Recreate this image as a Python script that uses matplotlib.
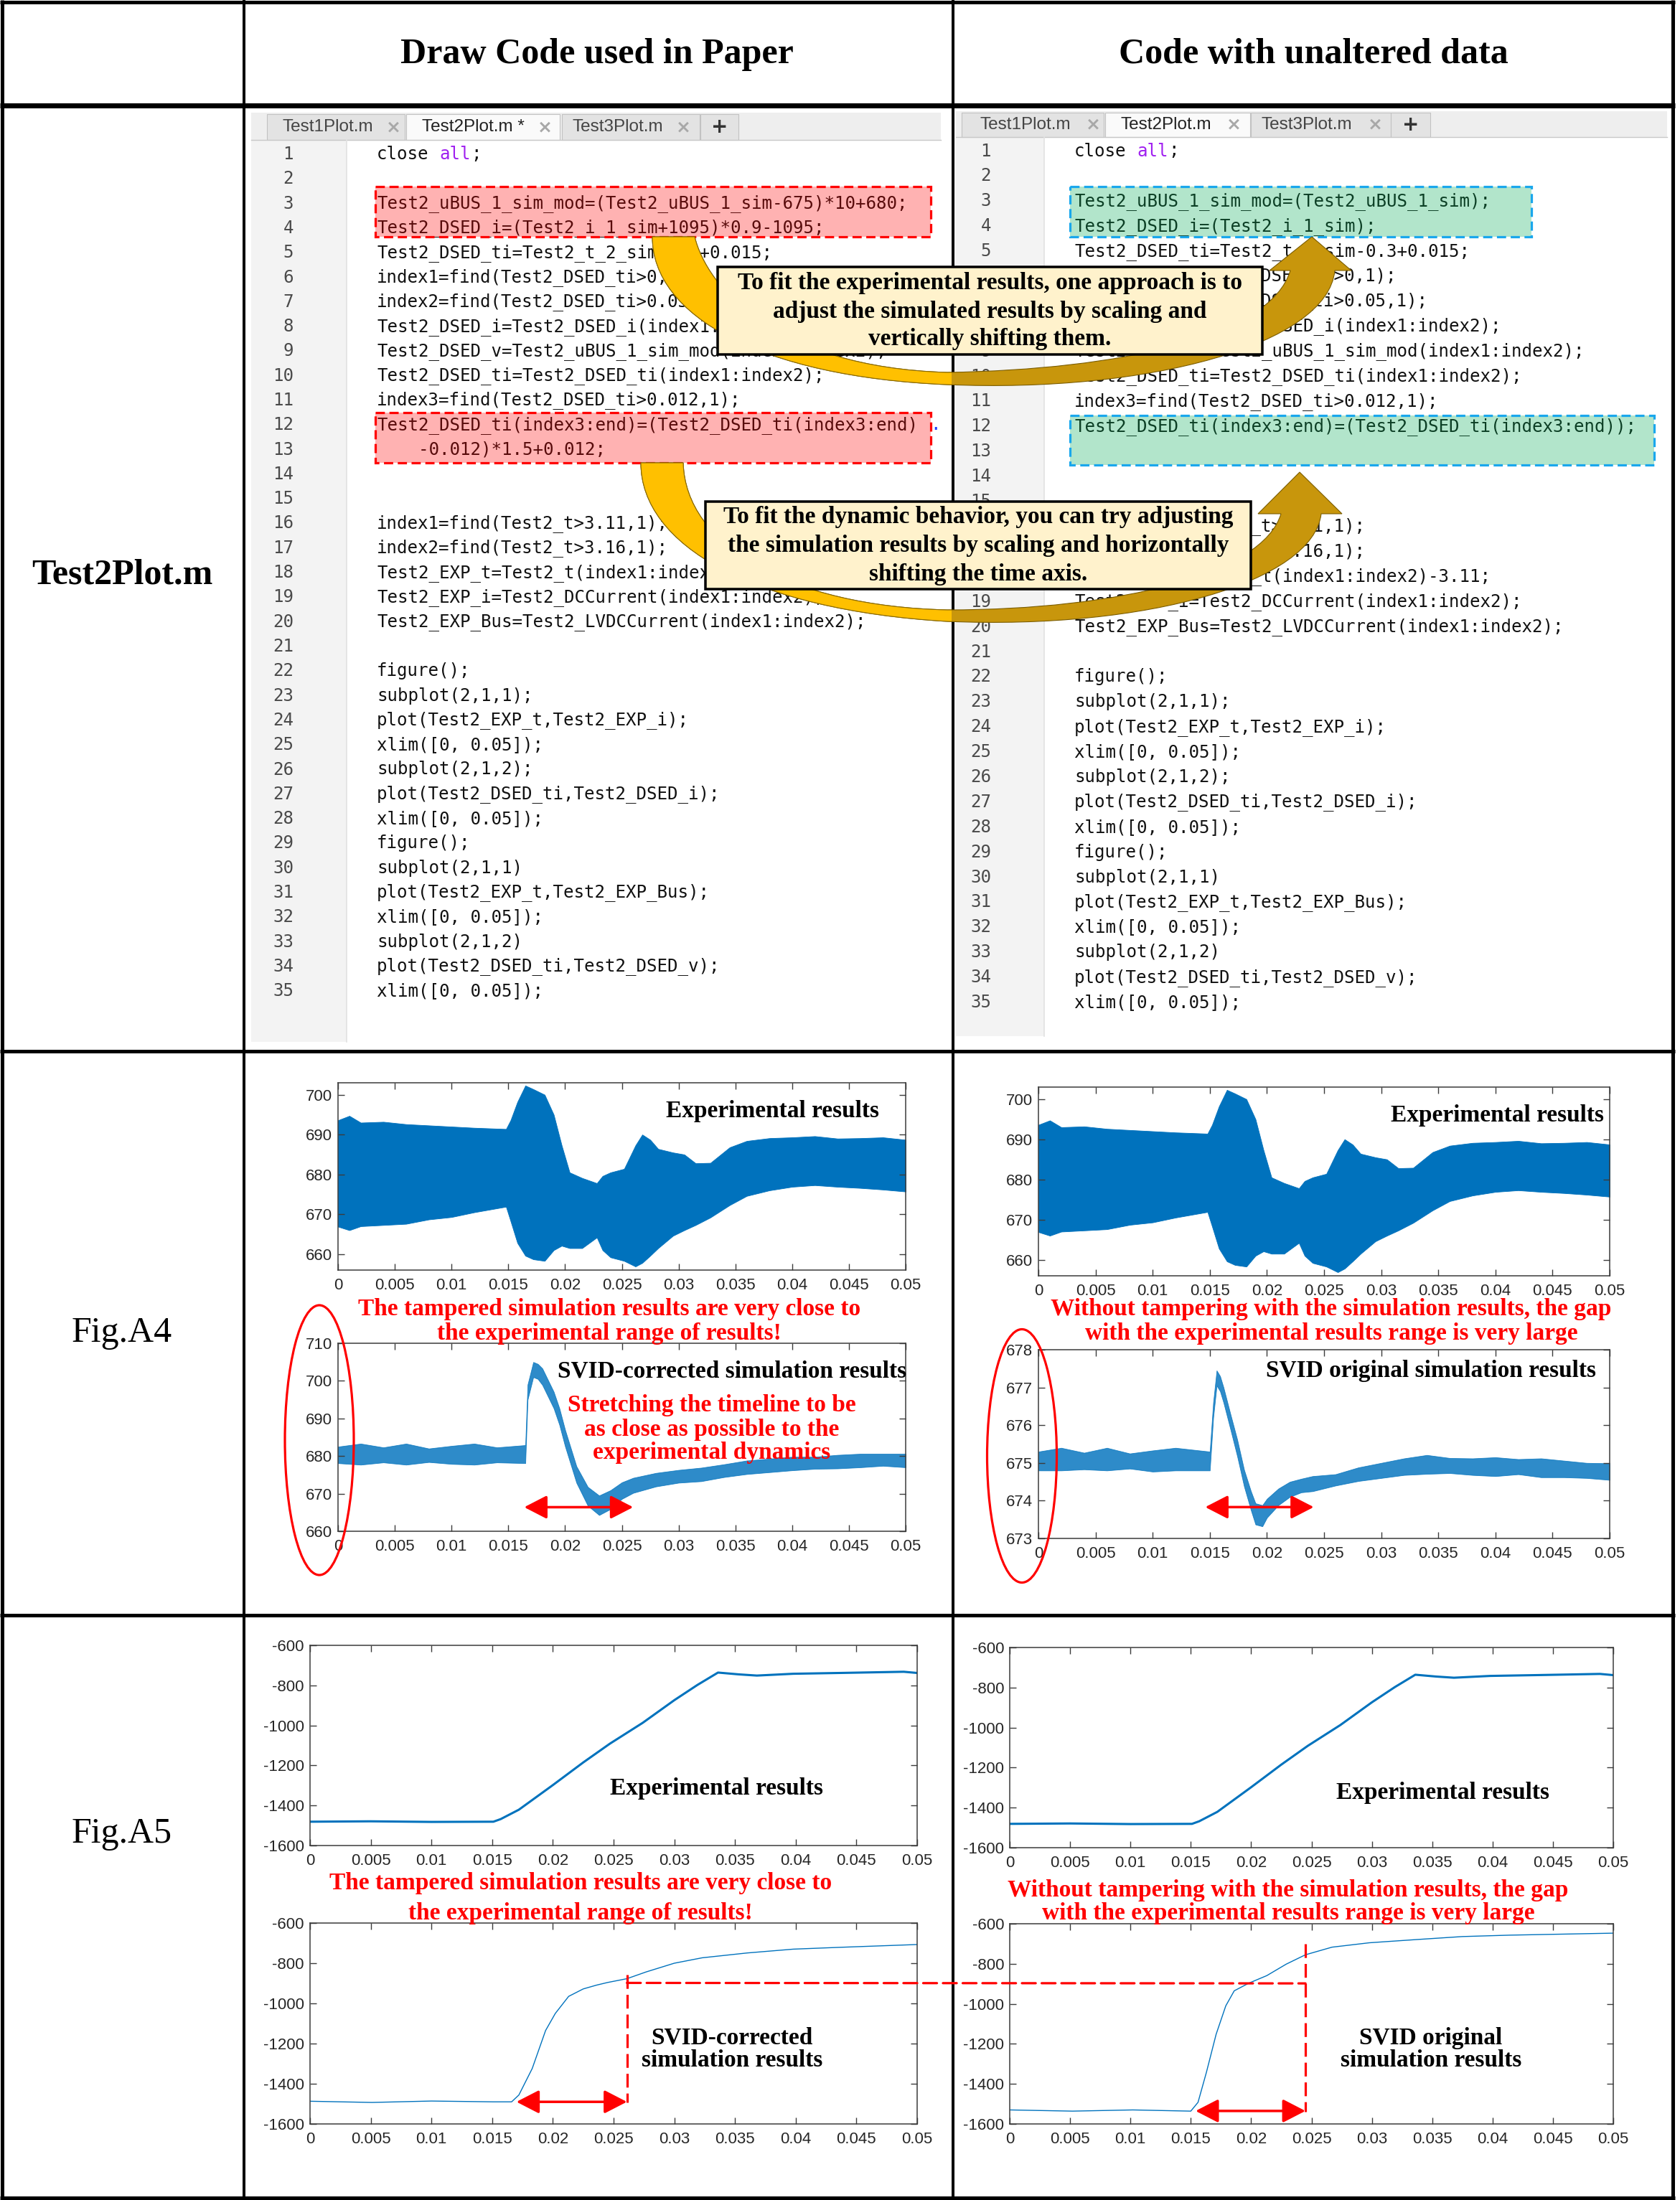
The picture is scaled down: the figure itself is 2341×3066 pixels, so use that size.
import numpy as np
import matplotlib
matplotlib.use("Agg")
import matplotlib.pyplot as plt
from matplotlib.patches import Rectangle, Ellipse, PathPatch, ConnectionPatch
from matplotlib.path import Path
from matplotlib import font_manager

W, H = 2341, 3066
DPI = 100
plt.rcParams['axes.unicode_minus'] = False

# ---------------- texts ----------------
header_titles = ["Draw Code used in Paper", "Code with unaltered data"]
row_labels = ["Test2Plot.m", "Fig.A4", "Fig.A5"]

code_paper = [
    "close all;",
    "",
    "Test2_uBUS_1_sim_mod=(Test2_uBUS_1_sim-675)*10+680;",
    "Test2_DSED_i=(Test2_i_1_sim+1095)*0.9-1095;",
    "Test2_DSED_ti=Test2_t_2_sim-0.3+0.015;",
    "index1=find(Test2_DSED_ti>0,1);",
    "index2=find(Test2_DSED_ti>0.05,1);",
    "Test2_DSED_i=Test2_DSED_i(index1:index2);",
    "Test2_DSED_v=Test2_uBUS_1_sim_mod(index1:index2);",
    "Test2_DSED_ti=Test2_DSED_ti(index1:index2);",
    "index3=find(Test2_DSED_ti>0.012,1);",
    "Test2_DSED_ti(index3:end)=(Test2_DSED_ti(index3:end)",
    "    -0.012)*1.5+0.012;",
    "",
    "",
    "index1=find(Test2_t>3.11,1);",
    "index2=find(Test2_t>3.16,1);",
    "Test2_EXP_t=Test2_t(index1:index2)-3.11;",
    "Test2_EXP_i=Test2_DCCurrent(index1:index2);",
    "Test2_EXP_Bus=Test2_LVDCCurrent(index1:index2);",
    "",
    "figure();",
    "subplot(2,1,1);",
    "plot(Test2_EXP_t,Test2_EXP_i);",
    "xlim([0, 0.05]);",
    "subplot(2,1,2);",
    "plot(Test2_DSED_ti,Test2_DSED_i);",
    "xlim([0, 0.05]);",
    "figure();",
    "subplot(2,1,1)",
    "plot(Test2_EXP_t,Test2_EXP_Bus);",
    "xlim([0, 0.05]);",
    "subplot(2,1,2)",
    "plot(Test2_DSED_ti,Test2_DSED_v);",
    "xlim([0, 0.05]);",
]
code_plain = list(code_paper)
code_plain[2] = "Test2_uBUS_1_sim_mod=(Test2_uBUS_1_sim);"
code_plain[3] = "Test2_DSED_i=(Test2_i_1_sim);"
code_plain[11] = "Test2_DSED_ti(index3:end)=(Test2_DSED_ti(index3:end));"
code_plain[12] = ""

note_scale = ["To fit the experimental results, one approach is to",
              "adjust the simulated results by scaling and",
              "vertically shifting them."]
note_time = ["To fit the dynamic behavior, you can try adjusting",
             "the simulation results by scaling and horizontally",
             "shifting the time axis."]
red_close = ["The tampered simulation results are very close to",
             "the experimental range of results!"]
red_gap = ["Without tampering with the simulation results, the gap",
           "with the experimental results range is very large"]
red_stretch = ["Stretching the timeline to be", "as close as possible to the",
               "experimental dynamics"]

# ---------------- data ----------------
x_ticks = [0, 0.005, 0.01, 0.015, 0.02, 0.025, 0.03, 0.035, 0.04, 0.045, 0.05]
x_tick_labels = ["0", "0.005", "0.01", "0.015", "0.02", "0.025", "0.03",
                 "0.035", "0.04", "0.045", "0.05"]

# Fig.A4 experimental bus voltage: envelope of the ripple band
exp_v_t = [0, 0.001, 0.002, 0.004, 0.006, 0.008, 0.010, 0.012, 0.0148, 0.0152, 0.0158,
           0.0165, 0.0172, 0.0182, 0.019, 0.0197, 0.0204, 0.0215, 0.0228, 0.0233,
           0.024, 0.0252, 0.0262, 0.0268, 0.0275, 0.0282, 0.0295, 0.0305, 0.0315,
           0.0328, 0.0345, 0.036, 0.038, 0.040, 0.042, 0.044, 0.046, 0.048, 0.05]
exp_v_upper = [693.6, 694.7, 693.0, 693.2, 692.6, 692.3, 692.0, 691.7, 691.4, 693.6,
               698.2, 702.3, 701.4, 700.0, 695.0, 687.3, 680.5, 679.1, 677.8, 679.6,
               680.5, 681.4, 687.3, 690.0, 688.7, 686.4, 685.5, 685.0, 682.8,
               682.9, 686.8, 688.4, 689.1, 689.3, 689.6, 689.0, 689.1, 689.3, 688.7]
exp_v_lower = [666.9, 666.0, 667.0, 667.3, 667.6, 668.7, 669.3, 670.5, 671.9, 668.3,
               662.8, 659.6, 658.7, 658.3, 661.0, 662.1, 661.5, 661.5, 664.2, 661.0,
               659.2, 658.3, 656.9, 657.8, 659.6, 661.5, 664.6, 666.0, 667.3,
               669.2, 672.3, 674.6, 676.0, 676.9, 677.3, 676.9, 676.6, 676.2, 675.7]

# Fig.A4 SVID-corrected simulation voltage (mean and ripple half-height)
simc_v_t = [0, 0.002, 0.004, 0.006, 0.008, 0.010, 0.012, 0.014, 0.0165, 0.0167,
            0.0172, 0.0176, 0.018, 0.019, 0.0195, 0.020, 0.021, 0.022, 0.023,
            0.024, 0.025, 0.026, 0.028, 0.030, 0.032, 0.034, 0.036, 0.038, 0.040,
            0.042, 0.044, 0.046, 0.048, 0.050]
simc_v_mid = [680.3, 680.5, 680.3, 680.5, 680.2, 680.3, 680.5, 680.3, 680.5, 697.0,
              703.0, 702.5, 701.1, 694.9, 690.5, 684.8, 675.1, 669.3, 666.9,
              668.4, 670.8, 672.2, 673.7, 674.6, 675.1, 676.1, 677.0, 677.5, 678.0,
              678.2, 678.5, 678.8, 679.0, 678.8]
simc_v_amp = [2.2, 2.8, 2.0, 2.8, 1.8, 2.4, 2.8, 2.0, 2.4, 2.0, 2.0, 2.0, 2.2, 2.2,
              2.2, 2.2, 2.2, 2.5, 2.6, 2.5, 2.2, 2.0, 1.8, 1.7, 1.8, 1.7, 1.8, 1.8,
              1.8, 1.6, 1.8, 1.8, 1.6, 1.8]

# Fig.A4 SVID original simulation voltage
simo_v_t = [0, 0.002, 0.004, 0.006, 0.008, 0.010, 0.012, 0.0150, 0.0153, 0.0156,
            0.0159, 0.0162, 0.0168, 0.0174, 0.018, 0.0186, 0.019, 0.0196, 0.020,
            0.021, 0.022, 0.023, 0.024, 0.026, 0.028, 0.030, 0.032, 0.034, 0.036,
            0.038, 0.040, 0.042, 0.044, 0.046, 0.048, 0.050]
simo_v_mid = [675.05, 675.1, 675.05, 675.1, 675.05, 675.05, 675.1, 675.05, 676.4,
              677.25, 677.1, 676.8, 676.1, 675.4, 674.6, 674.0, 673.65, 673.6,
              673.8, 674.1, 674.3, 674.4, 674.45, 674.55, 674.7, 674.8, 674.9,
              674.96, 674.93, 674.9, 674.9, 674.9, 674.87, 674.84, 674.8, 674.77]
simo_v_amp = [0.25, 0.3, 0.22, 0.3, 0.2, 0.28, 0.3, 0.25, 0.2, 0.2, 0.2, 0.2, 0.2,
              0.22, 0.22, 0.25, 0.28, 0.28, 0.25, 0.22, 0.2, 0.18, 0.2, 0.15, 0.18,
              0.2, 0.22, 0.25, 0.2, 0.22, 0.25, 0.2, 0.25, 0.22, 0.2, 0.22]

# Fig.A5 experimental current
exp_i_t = [0, 0.005, 0.010, 0.0151, 0.0157, 0.0172, 0.020, 0.0225, 0.0247, 0.0274,
           0.030, 0.0319, 0.0336, 0.0353, 0.0368, 0.0398, 0.0436, 0.0489, 0.05]
exp_i = [-1481, -1479, -1482, -1481, -1468, -1421, -1298, -1185, -1091, -987,
         -874, -798, -736, -745, -751, -742, -738, -732, -738]

# Fig.A5 SVID-corrected simulation current
simc_i_t = [0, 0.0051, 0.010, 0.0151, 0.0166, 0.0172, 0.0183, 0.0194, 0.0202, 0.0213,
            0.0225, 0.0236, 0.0245, 0.0261, 0.0277, 0.030, 0.0323, 0.036, 0.0398,
            0.0436, 0.05]
simc_i = [-1487, -1493, -1486, -1490, -1490, -1456, -1324, -1135, -1050, -965,
          -928, -909, -896, -877, -843, -800, -773, -749, -730, -721, -707]

# Fig.A5 SVID original simulation current
simo_i_t = [0, 0.0052, 0.0102, 0.015, 0.0156, 0.0163, 0.0171, 0.0179, 0.0186, 0.0198,
            0.0213, 0.0229, 0.0245, 0.0267, 0.0298, 0.0337, 0.0375, 0.0414, 0.05]
simo_i = [-1530, -1536, -1530, -1536, -1492, -1341, -1152, -1010, -935, -897,
          -859, -802, -755, -717, -695, -679, -664, -657, -647]

# marker lines drawn on the A5 plots
a5_level = -898
a5_corr_mark = 0.0261
a5_orig_mark = 0.0245

# ---------------- fonts ----------------
def has_font(name):
    try:
        font_manager.findfont(font_manager.FontProperties(family=name),
                              fallback_to_default=False)
        return True
    except ValueError:
        return False

SERIF = ["Liberation Serif", "DejaVu Serif"]
MONO = ["DejaVu Sans Mono"]
if has_font("Liberation Sans Narrow"):
    NARROW, TICK_PT, TAB_PT = ["Liberation Sans Narrow"], 20, 21
else:
    NARROW, TICK_PT, TAB_PT = ["Liberation Sans"], 16, 17.5
CODE_PT = 17.4
CHAR_W = CODE_PT * DPI / 72 * 0.602
BLUE = "#0072BD"
RED = "#FF0000"


def px(v):
    """pixels -> points"""
    return v * 72.0 / DPI


def fig_rect(x0, y0, x1, y1):
    return [x0 / W, 1 - y1 / H, (x1 - x0) / W, (y1 - y0) / H]


fig = plt.figure(figsize=(W / DPI, H / DPI), dpi=DPI)
bg = fig.add_axes([0, 0, 1, 1], zorder=0)
bg.set_xlim(0, W)
bg.set_ylim(H, 0)
bg.axis("off")

# ---------------- table grid ----------------
for x in (2.5, 2331):
    bg.plot([x, x], [0, H], color="black", lw=px(5), solid_capstyle="butt")
for y in (2.5, 3063):
    bg.plot([0, 2334], [y, y], color="black", lw=px(5), solid_capstyle="butt")
for x in (340, 1328):
    bg.plot([x, x], [0, H], color="black", lw=px(4), solid_capstyle="butt")
bg.plot([0, 2334], [147, 147], color="black", lw=px(7), solid_capstyle="butt")
for y in (1465, 2251):
    bg.plot([0, 2334], [y, y], color="black", lw=px(5), solid_capstyle="butt")

bg.text(832, 76, header_titles[0], family=SERIF, fontsize=36, weight="bold",
        ha="center", va="center")
bg.text(1830, 76, header_titles[1], family=SERIF, fontsize=36, weight="bold",
        ha="center", va="center")
bg.text(170, 802, row_labels[0], family=SERIF, fontsize=36, weight="bold",
        ha="center", va="center")
bg.text(170, 1858, row_labels[1], family=SERIF, fontsize=36, ha="center", va="center")
bg.text(170, 2556, row_labels[2], family=SERIF, fontsize=36, ha="center", va="center")


# ---------------- code editors ----------------
def draw_editor(ed, lines, tabs):
    x0, x1 = ed["x0"], ed["x1"]
    tt, tb, bot = ed["tab_top"], ed["tab_bot"], ed["bottom"]
    bg.add_patch(Rectangle((x0, tt), x1 - x0, tb - tt, fc="#EEEEEE", ec="none", zorder=1))
    for label, l, r, active, tx, cx in tabs:
        bg.add_patch(Rectangle((l, tt + 2), r - l, tb - tt - 2,
                               fc="#FAFAFA" if active else "#E3E3E3",
                               ec="#C2C2C2", lw=0.8, zorder=1.2))
        if label == "+":
            bg.text((l + r) / 2, (tt + tb) / 2 + 1, "+", family=["DejaVu Sans"],
                    fontsize=20, weight="bold", color="#333333",
                    ha="center", va="center", zorder=2)
            continue
        bg.text(tx, (tt + tb) / 2 + 1, label, family=NARROW, fontsize=TAB_PT,
                color="#222222" if active else "#444444", ha="left", va="center", zorder=2)
        bg.text(cx, (tt + tb) / 2 + 1, "\u00d7", family=["DejaVu Sans"], fontsize=18,
                weight="bold", color="#A8A8A8", ha="center", va="center", zorder=2)
    bg.plot([x0, x1], [tb, tb], color="#C8C8C8", lw=1, zorder=1.3)
    bg.add_patch(Rectangle((x0, tb), ed["gutter"] - x0, bot - tb, fc="#F3F3F3",
                           ec="none", zorder=1))
    bg.add_patch(Rectangle((ed["gutter"], tb), x1 - ed["gutter"], bot - tb, fc="white",
                           ec="none", zorder=1))
    bg.plot([ed["gutter"], ed["gutter"]], [tb, bot], color="#E2E2E2", lw=1.2, zorder=1.3)
    for i, s in enumerate(lines):
        y = ed["y0"] + i * ed["step"]
        bg.text(ed["num_right"], y, str(i + 1), family=MONO, fontsize=CODE_PT,
                color="#4A4A4A", ha="right", va="center", zorder=3)
        if s.startswith("close all"):
            bg.text(ed["code_x"], y, "close", family=MONO, fontsize=CODE_PT,
                    color="#111111", ha="left", va="center", zorder=3)
            bg.text(ed["code_x"] + 6 * CHAR_W, y, "all", family=MONO, fontsize=CODE_PT,
                    color="#A020F0", ha="left", va="center", zorder=3)
            bg.text(ed["code_x"] + 9 * CHAR_W, y, ";", family=MONO, fontsize=CODE_PT,
                    color="#111111", ha="left", va="center", zorder=3)
        elif s:
            bg.text(ed["code_x"], y, s, family=MONO, fontsize=CODE_PT,
                    color="#111111", ha="left", va="center", zorder=3)


def mark_box(x, y, w, h, fill, edge):
    bg.add_patch(Rectangle((x, y), w, h, fc=fill, ec="none", alpha=0.3, zorder=4))
    bg.add_patch(Rectangle((x, y), w, h, fill=False, ec=edge, lw=px(3.2),
                           ls=(0, (4, 2)), zorder=4.5))


left_ed = dict(x0=350, x1=1311, tab_top=157, tab_bot=195, bottom=1452, gutter=483,
               num_right=409, code_x=525, y0=215, step=34.3)
right_ed = dict(x0=1332, x1=2323, tab_top=155, tab_bot=191, bottom=1444, gutter=1455,
                num_right=1381, code_x=1497, y0=210.5, step=34.9)
left_tabs = [("Test1Plot.m", 372, 564, False, 394, 548),
             ("Test2Plot.m *", 566, 780, True, 588, 759),
             ("Test3Plot.m", 783, 975, False, 798, 952),
             ("+", 976, 1029, False, 0, 0)]
right_tabs = [("Test1Plot.m", 1340, 1538, False, 1365, 1523),
              ("Test2Plot.m", 1540, 1742, True, 1561, 1719),
              ("Test3Plot.m", 1743, 1938, False, 1758, 1916),
              ("+", 1938, 1993, False, 0, 0)]

draw_editor(left_ed, code_paper, left_tabs)
draw_editor(right_ed, code_plain, right_tabs)
bg.text(left_ed["code_x"] + 53 * CHAR_W, left_ed["y0"] + 11 * left_ed["step"], ".",
        family=MONO, fontsize=CODE_PT, color="#1E40FF", ha="left", va="center", zorder=3)

mark_box(523, 260, 774, 70, "#FF0000", RED)
mark_box(523, 575, 774, 70, "#FF0000", RED)
mark_box(1491, 260, 643, 70, "#02AB55", "#1AA7EC")
mark_box(1491, 579, 814, 69, "#02AB55", "#1AA7EC")


# ---------------- curved arrows ----------------
def curved_arrow(verts):
    codes = ([Path.MOVETO] + [Path.CURVE4] * 6 + [Path.LINETO] * 4 +
             [Path.CURVE4] * 6 + [Path.CLOSEPOLY])
    path = Path(verts, codes)
    dark = PathPatch(path, fc="#C8960C", ec="#7A5C00", lw=0.8, zorder=5)
    bright = PathPatch(path, fc="#FFC000", ec="#8A6A00", lw=0.8, zorder=5.1)
    bg.add_patch(dark)
    bg.add_patch(bright)
    bright.set_clip_path(Rectangle((0, 0), 1326, H, transform=bg.transData))


curved_arrow([(909, 330),
              (909, 440), (1060, 525), (1320, 536),
              (1600, 548), (1850, 480), (1860, 377),
              (1883, 377), (1828, 330), (1769, 377), (1798, 377),
              (1770, 470), (1560, 515), (1320, 519),
              (1080, 512), (985, 400), (968, 330),
              (909, 330)])
curved_arrow([(893, 645),
              (893, 760), (1050, 850), (1320, 866),
              (1600, 878), (1830, 810), (1841, 716),
              (1870, 716), (1811, 658), (1753, 716), (1785, 716),
              (1760, 800), (1560, 850), (1320, 850),
              (1100, 845), (955, 760), (952, 645),
              (893, 645)])


def callout(x, y, w, h, lines, ys):
    bg.add_patch(Rectangle((x, y), w, h, fc="#FFF2CC", ec="black", lw=px(3.5), zorder=6))
    for s, yy in zip(lines, ys):
        bg.text(x + w / 2, yy, s, family=SERIF, fontsize=24, weight="bold",
                ha="center", va="center", zorder=7)


callout(1000, 372, 759, 122, note_scale, [394, 434, 473])
callout(983, 699, 760, 122, note_time, [720, 760, 800])


# ---------------- charts ----------------
def style_ax(ax, ylim, yticks):
    ax.set_xlim(0, 0.05)
    ax.set_ylim(*ylim)
    ax.set_xticks(x_ticks)
    ax.set_xticklabels(x_tick_labels)
    ax.set_yticks(yticks)
    ax.set_yticklabels([str(v) for v in yticks])
    ax.tick_params(direction="in", top=True, right=True, length=px(9), width=1,
                   color="#3C3C3C", labelcolor="#262626", labelsize=TICK_PT)
    ax.tick_params(axis="x", pad=px(11))
    ax.tick_params(axis="y", pad=px(8))
    for lab in ax.get_xticklabels() + ax.get_yticklabels():
        lab.set_family(NARROW)
    for sp in ax.spines.values():
        sp.set_color("#3C3C3C")
        sp.set_linewidth(1.1)


a4_exp_yticks = [660, 670, 680, 690, 700]
a4_corr_yticks = [660, 670, 680, 690, 700, 710]
a4_orig_yticks = [673, 674, 675, 676, 677, 678]
a5_yticks = [-1600, -1400, -1200, -1000, -800, -600]

ax_a4l_top = fig.add_axes(fig_rect(471, 1509, 1262, 1770), zorder=1)
ax_a4l_bot = fig.add_axes(fig_rect(471, 1872, 1262, 2134), zorder=1)
ax_a4r_top = fig.add_axes(fig_rect(1447, 1515, 2243, 1778), zorder=1)
ax_a4r_bot = fig.add_axes(fig_rect(1447, 1881, 2243, 2144), zorder=1)
ax_a5l_top = fig.add_axes(fig_rect(432, 2293, 1278, 2572), zorder=1)
ax_a5l_bot = fig.add_axes(fig_rect(432, 2680, 1278, 2960), zorder=1)
ax_a5r_top = fig.add_axes(fig_rect(1407, 2296, 2248, 2575), zorder=1)
ax_a5r_bot = fig.add_axes(fig_rect(1407, 2681, 2248, 2960), zorder=1)

for ax in (ax_a4l_top, ax_a4r_top):
    ax.fill_between(exp_v_t, exp_v_lower, exp_v_upper, color=BLUE, lw=0.6)
    style_ax(ax, (656, 703), a4_exp_yticks)

mid = np.array(simc_v_mid)
amp = np.array(simc_v_amp)
ax_a4l_bot.fill_between(simc_v_t, mid - amp, mid + amp, color=BLUE, alpha=0.82, lw=0.6)
style_ax(ax_a4l_bot, (660, 710), a4_corr_yticks)

mid = np.array(simo_v_mid)
amp = np.array(simo_v_amp)
ax_a4r_bot.fill_between(simo_v_t, mid - amp, mid + amp, color=BLUE, alpha=0.82, lw=0.6)
style_ax(ax_a4r_bot, (673, 678), a4_orig_yticks)

for ax in (ax_a5l_top, ax_a5r_top):
    ax.plot(exp_i_t, exp_i, color=BLUE, lw=2.2)
    style_ax(ax, (-1600, -600), a5_yticks)
ax_a5l_bot.plot(simc_i_t, simc_i, color=BLUE, lw=1.0)
style_ax(ax_a5l_bot, (-1600, -600), a5_yticks)
ax_a5r_bot.plot(simo_i_t, simo_i, color=BLUE, lw=1.0)
style_ax(ax_a5r_bot, (-1600, -600), a5_yticks)

# red double arrows showing the dynamic time span
arrow_kw = dict(arrowstyle="<|-|>,head_length=0.97,head_width=0.5", mutation_scale=20,
                color=RED, lw=px(3.5), shrinkA=0, shrinkB=0)
ax_a4l_bot.annotate("", xy=(0.0260, 666.4), xytext=(0.0164, 666.4),
                    arrowprops=arrow_kw, annotation_clip=False)
ax_a4r_bot.annotate("", xy=(0.0241, 673.83), xytext=(0.0146, 673.83),
                    arrowprops=arrow_kw, annotation_clip=False)
ax_a5l_bot.annotate("", xy=(a5_corr_mark, -1490), xytext=(0.0170, -1490),
                    arrowprops=arrow_kw, annotation_clip=False)
ax_a5r_bot.annotate("", xy=(a5_orig_mark, -1535), xytext=(0.0154, -1535),
                    arrowprops=arrow_kw, annotation_clip=False)

dash = (0, (6, 2.6))
ax_a5l_bot.plot([a5_corr_mark, a5_corr_mark], [-856, -1493], color=RED, lw=px(3.2),
                ls=dash, clip_on=False, zorder=5)
ax_a5r_bot.plot([a5_orig_mark, a5_orig_mark], [-702, -1539], color=RED, lw=px(3.2),
                ls=dash, clip_on=False, zorder=5)
link = ConnectionPatch(xyA=(a5_corr_mark, a5_level), coordsA=ax_a5l_bot.transData,
                       xyB=(a5_orig_mark, a5_level), coordsB=ax_a5r_bot.transData,
                       color=RED, lw=px(3.2), ls=dash, zorder=10)
fig.add_artist(link)

# ---------------- overlay: labels and ellipses ----------------
fg = fig.add_axes([0, 0, 1, 1], zorder=2)
fg.set_xlim(0, W)
fg.set_ylim(H, 0)
fg.axis("off")
fg.patch.set_alpha(0)


def label(x, y, s, color="black"):
    fg.text(x, y, s, family=SERIF, fontsize=24, weight="bold", color=color,
            ha="center", va="center")


label(1077, 1548, "Experimental results")
label(2087, 1555, "Experimental results")
label(1020, 1911, "SVID-corrected simulation results")
label(1994, 1911, "SVID original simulation results")
for s, y in zip(red_close, (1825, 1858)):
    label(849, y, s, RED)
for s, y in zip(red_gap, (1825, 1858)):
    label(1855, y, s, RED)
for s, y in zip(red_stretch, (1959, 1992, 2025)):
    label(992, y, s, RED)

label(999, 2493, "Experimental results")
label(2010, 2498, "Experimental results")
for s, y in zip(red_close, (2625, 2667)):
    label(809, y, s, RED)
for s, y in zip(red_gap, (2634, 2667)):
    label(1795, y, s, RED)
label(1020, 2840, "SVID-corrected")
label(1020, 2872, "simulation results")
label(1994, 2840, "SVID original")
label(1994, 2872, "simulation results")

fg.add_patch(Ellipse((445, 2007), 96, 376, fill=False, ec=RED, lw=px(3.2)))
fg.add_patch(Ellipse((1424, 2029), 97, 353, fill=False, ec=RED, lw=px(3.2)))

fig.savefig("out.png", dpi=DPI, facecolor="white")
